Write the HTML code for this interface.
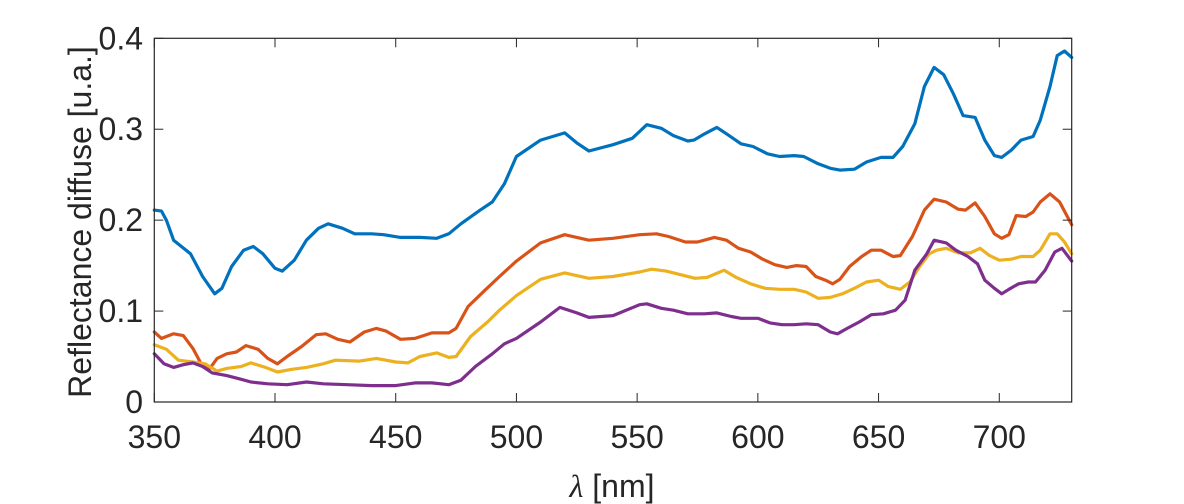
<!DOCTYPE html>
<html><head><meta charset="utf-8"><style>
html,body{margin:0;padding:0;background:#fff;}
svg{display:block;font-family:"Liberation Sans",Arial,sans-serif;}
</style></head><body>
<svg id="chart" width="1184" height="504">
<g id="grid"></g>
<g id="series"></g>
<rect x="154.3" y="38.3" width="917.4" height="363.7" fill="none" stroke="#262626" stroke-width="1.2"/>
<g id="ticks"></g>
<text x="612" y="497" font-size="32" text-anchor="middle" fill="#262626"><tspan font-family="Liberation Serif" font-style="italic">λ</tspan> [nm]</text>
<text transform="translate(91,222) rotate(-90)" font-size="32" text-anchor="middle" fill="#262626">Reflectance diffuse [u.a.]</text>
</svg>
<script>
const xTicks=[350,400,450,500,550,600,650,700];
const yTicks=[0,0.1,0.2,0.3,0.4];
const yTickLabels=["0","0.1","0.2","0.3","0.4"];
const blueWl=[350,353,355,358,365,370,375,378,382,387,391,395,400,403,408,413,418,422,428,433,440,445,452,460,467,472,477,485,490,495,500,510,520,525,530,540,548,554,560,565,571,573.5,578,583,587,593,598,604,609,615,619,625,630,634,640,645,651,656,660,665,669,673,677,681,685,690,694,698,701,705,709,714,717,721,724,727,730];
const blueVal=[0.211,0.21,0.2,0.178,0.163,0.138,0.119,0.125,0.149,0.167,0.171,0.163,0.147,0.144,0.156,0.178,0.191,0.196,0.191,0.185,0.185,0.184,0.181,0.181,0.18,0.185,0.196,0.211,0.22,0.24,0.27,0.288,0.296,0.285,0.276,0.283,0.29,0.305,0.301,0.293,0.287,0.288,0.295,0.302,0.295,0.284,0.281,0.273,0.27,0.271,0.27,0.262,0.257,0.255,0.256,0.264,0.269,0.269,0.281,0.306,0.347,0.368,0.36,0.339,0.315,0.313,0.288,0.271,0.269,0.277,0.288,0.292,0.31,0.347,0.381,0.386,0.379];
const redWl=[350,353,358,362,366,370,373,376,380,384,388,393,397,401,405,411,417,421,426,431,437,442,446,452,458,465,472,475,480,487,493,500,510,520,530,540,551,558,563,570,575,582,587,592,597,602,607,612,616,620,624,628,631,634,638,643,647,651,656,659,664,669,673,678,683,686,690,694,698,701,704,707,711,714,717,721,725,730];
const redVal=[0.077,0.07,0.075,0.073,0.059,0.039,0.037,0.048,0.053,0.055,0.062,0.058,0.048,0.042,0.05,0.061,0.074,0.075,0.069,0.066,0.077,0.081,0.078,0.069,0.07,0.076,0.076,0.081,0.105,0.123,0.138,0.155,0.175,0.184,0.178,0.18,0.184,0.185,0.182,0.176,0.176,0.181,0.178,0.169,0.165,0.157,0.151,0.148,0.15,0.149,0.138,0.134,0.13,0.135,0.149,0.16,0.167,0.167,0.16,0.161,0.182,0.211,0.223,0.22,0.212,0.211,0.219,0.204,0.185,0.18,0.184,0.205,0.204,0.209,0.22,0.229,0.22,0.195];
const yellowWl=[350,355,360,366,371,376,380,386,390,396,401,407,413,420,425,435,442,450,455,460,467,472,475,481,488,493,500,510,520,530,540,551,556,562,568,574,579,586,591,597,603,609,615,620,625,630,635,640,645,650,654,659,663,667,671,674,678,683,688,692,696,700,705,709,714,717,721,724,727,730];
const yellowVal=[0.063,0.058,0.046,0.044,0.042,0.034,0.037,0.039,0.043,0.038,0.033,0.036,0.038,0.042,0.046,0.045,0.048,0.044,0.043,0.05,0.054,0.049,0.05,0.072,0.088,0.101,0.117,0.135,0.142,0.136,0.138,0.143,0.146,0.144,0.14,0.136,0.137,0.145,0.137,0.13,0.125,0.124,0.124,0.121,0.114,0.115,0.119,0.125,0.132,0.134,0.127,0.124,0.132,0.149,0.163,0.167,0.169,0.164,0.164,0.169,0.161,0.156,0.157,0.16,0.16,0.167,0.185,0.185,0.176,0.163];
const purpleWl=[350,354,358,362,366,370,374,380,386,390,397,405,413,420,430,440,450,458,465,472,477,483,490,495,500,510,518,525,530,540,551,554,560,565,571,578,583,589,593,600,605,610,615,620,625,630,633,637,642,647,652,657,661,665,670,673,678,682,687,691,694,698,701,704,708,712,715,719,723,726,730];
const purpleVal=[0.053,0.042,0.038,0.041,0.043,0.039,0.032,0.029,0.025,0.022,0.02,0.019,0.022,0.02,0.019,0.018,0.018,0.021,0.021,0.019,0.024,0.039,0.053,0.064,0.07,0.088,0.104,0.098,0.093,0.095,0.107,0.108,0.103,0.101,0.097,0.097,0.098,0.094,0.092,0.092,0.087,0.085,0.085,0.086,0.085,0.077,0.075,0.081,0.088,0.096,0.097,0.101,0.112,0.145,0.163,0.178,0.175,0.167,0.16,0.152,0.134,0.125,0.119,0.124,0.13,0.132,0.132,0.145,0.165,0.169,0.155];

const NS="http://www.w3.org/2000/svg";
const X0=154.3,X1=1071.7,Y0=402,Y1=38.3;
const xScale=v=>X0+(v-350)/(730-350)*(X1-X0);
const yScale=v=>Y0-(v/0.4)*(Y0-Y1);
const ticks=document.getElementById('ticks');
const seriesG=document.getElementById('series');

xTicks.forEach(t=>{
  const x=xScale(t);
  const l1=document.createElementNS(NS,'line');
  l1.setAttribute('x1',x);l1.setAttribute('x2',x);l1.setAttribute('y1',Y0);l1.setAttribute('y2',Y0-9);
  l1.setAttribute('stroke','#262626');
  
  
  ticks.appendChild(l1);
  const l2=document.createElementNS(NS,'line');
  l2.setAttribute('x1',x);l2.setAttribute('x2',x);l2.setAttribute('y1',Y1);l2.setAttribute('y2',Y1+9);
  l2.setAttribute('stroke','#262626');
  
  
  ticks.appendChild(l2);
  const tx=document.createElementNS(NS,'text');
  tx.setAttribute('x',x);tx.setAttribute('y',448);
  tx.setAttribute('font-size','32');tx.setAttribute('text-anchor','middle');tx.setAttribute('fill','#262626');
  tx.textContent=String(t);
  
  
  ticks.appendChild(tx);
});
yTicks.forEach((t,i)=>{
  const y=yScale(t);
  const l1=document.createElementNS(NS,'line');
  l1.setAttribute('x1',X0);l1.setAttribute('x2',X0+9);l1.setAttribute('y1',y);l1.setAttribute('y2',y);
  l1.setAttribute('stroke','#262626');
  
  
  ticks.appendChild(l1);
  const l2=document.createElementNS(NS,'line');
  l2.setAttribute('x1',X1);l2.setAttribute('x2',X1-9);l2.setAttribute('y1',y);l2.setAttribute('y2',y);
  l2.setAttribute('stroke','#262626');
  
  
  ticks.appendChild(l2);
  const tx=document.createElementNS(NS,'text');
  tx.setAttribute('x',143);tx.setAttribute('y',y+11);
  tx.setAttribute('font-size','32');tx.setAttribute('text-anchor','end');tx.setAttribute('fill','#262626');
  tx.textContent=yTickLabels[i];
  
  
  ticks.appendChild(tx);
});
function drawSeries(wl,vals,color,name){
  const p=document.createElementNS(NS,'polyline');
  p.setAttribute('points',wl.map((w,i)=>xScale(w).toFixed(1)+','+yScale(vals[i]).toFixed(1)).join(' '));
  p.setAttribute('fill','none');p.setAttribute('stroke',color);p.setAttribute('stroke-width','3.2');
  p.setAttribute('stroke-linejoin','round');p.setAttribute('stroke-linecap','round');
  
  
  seriesG.appendChild(p);
}
drawSeries(blueWl,blueVal,'#0072BD','series-blue');
drawSeries(redWl,redVal,'#D95319','series-orange');
drawSeries(yellowWl,yellowVal,'#EDB120','series-yellow');
drawSeries(purpleWl,purpleVal,'#7E2F8E','series-purple');
</script>
</body></html>
